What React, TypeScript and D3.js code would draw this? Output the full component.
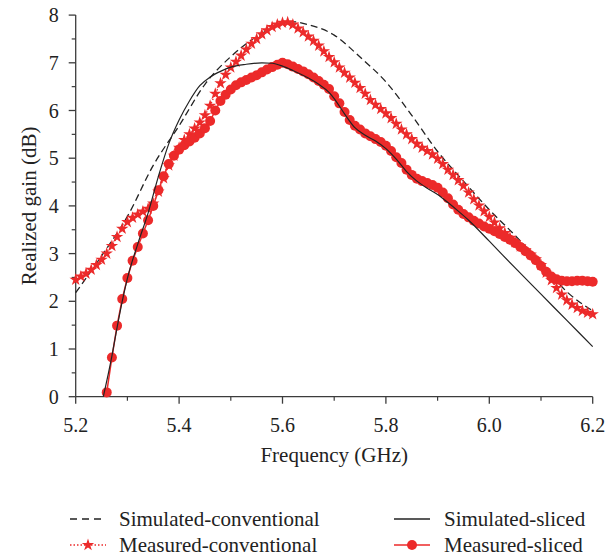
import React from "react";
import * as d3 from "d3";

// ---------- data ----------
const xTicks = [5.2, 5.4, 5.6, 5.8, 6.0, 6.2];
const xTickLabels = ["5.2", "5.4", "5.6", "5.8", "6.0", "6.2"];
const xMinorTicks = [5.3, 5.5, 5.7, 5.9, 6.1];
const yTicks = [0, 1, 2, 3, 4, 5, 6, 7, 8];
const yMinorTicks = [0.5, 1.5, 2.5, 3.5, 4.5, 5.5, 6.5, 7.5];

const simConvFreq = [5.2, 5.25, 5.3, 5.35, 5.4, 5.45, 5.5, 5.55, 5.6, 5.62, 5.65, 5.7, 5.75, 5.8, 5.85, 5.9, 5.95, 6.0, 6.05, 6.1, 6.15, 6.2];
const simConvGain = [2.18, 2.95, 3.78, 4.85, 5.68, 6.55, 7.13, 7.55, 7.81, 7.86, 7.8, 7.58, 7.12, 6.6, 5.9, 5.14, 4.52, 3.92, 3.38, 2.8, 2.2, 1.8];

const simSlicedFreq = [5.2534, 5.27, 5.28, 5.29, 5.3, 5.32, 5.34, 5.36, 5.38, 5.4, 5.42, 5.44, 5.46, 5.48, 5.5, 5.53, 5.56, 5.58, 5.6, 5.62, 5.65, 5.67, 5.69, 5.7, 5.72, 5.74, 5.76, 5.78, 5.8, 5.82, 5.84, 5.86, 5.88, 5.9, 5.92, 5.94, 5.96, 6.0, 6.05, 6.1, 6.15, 6.2];
const simSlicedGain = [0, 0.85, 1.45, 2.0, 2.48, 3.2, 3.85, 4.62, 5.3, 5.8, 6.2, 6.52, 6.7, 6.82, 6.91, 6.97, 7.0, 6.99, 6.93, 6.84, 6.68, 6.55, 6.38, 6.25, 5.93, 5.64, 5.48, 5.36, 5.2, 4.98, 4.72, 4.52, 4.37, 4.24, 4.07, 3.89, 3.7, 3.26, 2.7, 2.15, 1.6, 1.05];

const measConvFreq = [5.2, 5.21, 5.22, 5.23, 5.24, 5.25, 5.26, 5.27, 5.28, 5.29, 5.3, 5.31, 5.32, 5.33, 5.34, 5.35, 5.36, 5.37, 5.38, 5.39, 5.4, 5.41, 5.42, 5.43, 5.44, 5.45, 5.46, 5.47, 5.48, 5.49, 5.5, 5.51, 5.52, 5.53, 5.54, 5.55, 5.56, 5.57, 5.58, 5.59, 5.6, 5.61, 5.62, 5.63, 5.64, 5.65, 5.66, 5.67, 5.68, 5.69, 5.7, 5.71, 5.72, 5.73, 5.74, 5.75, 5.76, 5.77, 5.78, 5.79, 5.8, 5.81, 5.82, 5.83, 5.84, 5.85, 5.86, 5.87, 5.88, 5.89, 5.9, 5.91, 5.92, 5.93, 5.94, 5.95, 5.96, 5.97, 5.98, 5.99, 6.0, 6.01, 6.02, 6.03, 6.04, 6.05, 6.06, 6.07, 6.08, 6.09, 6.1, 6.11, 6.12, 6.13, 6.14, 6.15, 6.16, 6.17, 6.18, 6.19, 6.2];
const measConvGain = [2.45, 2.52, 2.58, 2.66, 2.76, 2.87, 3.0, 3.16, 3.35, 3.52, 3.66, 3.75, 3.82, 3.88, 3.94, 4.05, 4.3, 4.58, 4.85, 5.05, 5.22, 5.38, 5.5, 5.62, 5.75, 5.9, 6.1, 6.35, 6.57, 6.75, 6.9, 7.02, 7.15, 7.28, 7.4, 7.5, 7.6, 7.68, 7.75, 7.8, 7.84, 7.85, 7.8, 7.72, 7.64, 7.55, 7.46, 7.36, 7.24, 7.12, 7.01, 6.9, 6.79, 6.69, 6.58, 6.47, 6.35, 6.22, 6.12, 6.03, 5.94, 5.84, 5.72, 5.6, 5.5, 5.4, 5.3, 5.22, 5.15, 5.08, 4.99, 4.88, 4.76, 4.65, 4.54, 4.42, 4.28, 4.14, 4.01, 3.89, 3.77, 3.65, 3.53, 3.43, 3.33, 3.24, 3.15, 3.07, 2.98, 2.88, 2.76, 2.6, 2.44, 2.28, 2.14, 2.02, 1.93, 1.86, 1.8, 1.76, 1.73];

const measSlicedFreq = [5.26, 5.27, 5.28, 5.29, 5.3, 5.31, 5.32, 5.33, 5.34, 5.35, 5.36, 5.37, 5.38, 5.39, 5.4, 5.41, 5.42, 5.43, 5.44, 5.45, 5.46, 5.47, 5.48, 5.49, 5.5, 5.51, 5.52, 5.53, 5.54, 5.55, 5.56, 5.57, 5.58, 5.59, 5.6, 5.61, 5.62, 5.63, 5.64, 5.65, 5.66, 5.67, 5.68, 5.69, 5.7, 5.71, 5.72, 5.73, 5.74, 5.75, 5.76, 5.77, 5.78, 5.79, 5.8, 5.81, 5.82, 5.83, 5.84, 5.85, 5.86, 5.87, 5.88, 5.89, 5.9, 5.91, 5.92, 5.93, 5.94, 5.95, 5.96, 5.97, 5.98, 5.99, 6.0, 6.01, 6.02, 6.03, 6.04, 6.05, 6.06, 6.07, 6.08, 6.09, 6.1, 6.11, 6.12, 6.13, 6.14, 6.15, 6.16, 6.17, 6.18, 6.19, 6.2];
const measSlicedGain = [0.09, 0.82, 1.49, 2.05, 2.49, 2.85, 3.14, 3.42, 3.7, 4.0, 4.33, 4.62, 4.88, 5.05, 5.18, 5.27, 5.35, 5.43, 5.52, 5.63, 5.78, 6.0, 6.2, 6.33, 6.44, 6.53, 6.59, 6.64, 6.69, 6.74, 6.8, 6.86, 6.91, 6.96, 7.0, 6.97, 6.92, 6.87, 6.82, 6.76, 6.69, 6.62, 6.54, 6.45, 6.3, 6.15, 5.97, 5.8, 5.68, 5.6, 5.52, 5.46, 5.4, 5.34, 5.26, 5.15, 5.02, 4.9, 4.76, 4.65, 4.57, 4.52, 4.48, 4.44, 4.38, 4.28, 4.16, 4.03, 3.92, 3.83, 3.76, 3.69, 3.63, 3.57, 3.52, 3.47, 3.41, 3.35, 3.29, 3.22, 3.14, 3.05, 2.96, 2.86, 2.74, 2.62, 2.52, 2.46, 2.43, 2.42, 2.42, 2.43, 2.43, 2.42, 2.41];

const legendLabels = ["Simulated-conventional", "Simulated-sliced", "Measured-conventional", "Measured-sliced"];

// ---------- styling ----------
const W = 615;
const H = 556;
const RED = "#ec2a2a";
const AXIS = "#3c3c3c";
const FONT = "'Liberation Serif', 'DejaVu Serif', serif";
const FS_TICK = 20;
const FS = 21;

export default function App() {
  const x = d3.scaleLinear().domain([5.2, 6.2]).range([75.7, 592.7]);
  const y = d3.scaleLinear().domain([0, 8]).range([396.7, 15.1]);

  const zip = (fs: number[], gs: number[]) => fs.map((f, i) => [f, gs[i]] as [number, number]);
  const simConv = zip(simConvFreq, simConvGain);
  const simSliced = zip(simSlicedFreq, simSlicedGain);
  const measConv = zip(measConvFreq, measConvGain);
  const measSliced = zip(measSlicedFreq, measSlicedGain);

  const smooth = d3
    .line<[number, number]>()
    .x((d) => x(d[0]))
    .y((d) => y(d[1]))
    .curve(d3.curveMonotoneX);
  const straight = d3
    .line<[number, number]>()
    .x((d) => x(d[0]))
    .y((d) => y(d[1]));

  const starPath = d3.symbol().type(d3.symbolStar).size(48)()!;

  const x0 = x(5.2);
  const yBase = y(0);

  const rowBase = [526, 552];
  const rowLine = [519, 545];
  const legCols = [{ l1: 70, l2: 106, t: 119 }, { l1: 394, l2: 430, t: 444 }];

  return (
    <svg width={W} height={H} style={{ position: "absolute", left: 0, top: 0, background: "#fff" }}>
      {/* axes */}
      <line x1={x0} y1={y(8)} x2={x0} y2={yBase} stroke={AXIS} strokeWidth={1.3} />
      <line x1={x0} y1={yBase} x2={x(6.2)} y2={yBase} stroke={AXIS} strokeWidth={1.3} />
      {yTicks.map((t) => (
        <g key={"yt" + t}>
          <line x1={x0 - 7} x2={x0} y1={y(t)} y2={y(t)} stroke={AXIS} strokeWidth={1.3} />
          <text x={x0 - 17} y={y(t)} dy="0.35em" textAnchor="end" fontFamily={FONT} fontSize={FS_TICK} fill="#222">
            {t}
          </text>
        </g>
      ))}
      {yMinorTicks.map((t) => (
        <line key={"ym" + t} x1={x0 - 4} x2={x0} y1={y(t)} y2={y(t)} stroke={AXIS} strokeWidth={1.2} />
      ))}
      {xTicks.map((t, i) => (
        <g key={"xt" + t}>
          <line x1={x(t)} x2={x(t)} y1={yBase} y2={yBase + 7} stroke={AXIS} strokeWidth={1.3} />
          <text x={x(t)} y={yBase + 35} textAnchor="middle" fontFamily={FONT} fontSize={FS_TICK} fill="#222">
            {xTickLabels[i]}
          </text>
        </g>
      ))}
      {xMinorTicks.map((t) => (
        <line key={"xm" + t} x1={x(t)} x2={x(t)} y1={yBase} y2={yBase + 4} stroke={AXIS} strokeWidth={1.2} />
      ))}
      <text x={(x(5.2) + x(6.2)) / 2} y={462} textAnchor="middle" fontFamily={FONT} fontSize={FS} fill="#222">
        Frequency (GHz)
      </text>
      <text
        transform={`translate(36, ${(y(0) + y(8)) / 2}) rotate(-90)`}
        textAnchor="middle"
        fontFamily={FONT}
        fontSize={FS}
        fill="#222"
      >
        Realized gain (dB)
      </text>

      {/* simulated conventional (dashed) */}
      <path d={smooth(simConv)!} fill="none" stroke="#222" strokeWidth={1.3} strokeDasharray="7,4" />
      {/* measured conventional (stars, dotted) */}
      <path d={straight(measConv)!} fill="none" stroke={RED} strokeWidth={1.3} strokeDasharray="1.5,2" />
      {measConv.map((d, i) => (
        <path key={"s" + i} d={starPath} transform={`translate(${x(d[0])},${y(d[1])})`} fill={RED} />
      ))}
      {/* measured sliced (circles, solid) */}
      <path d={straight(measSliced)!} fill="none" stroke={RED} strokeWidth={1.5} />
      {measSliced.map((d, i) => (
        <circle key={"c" + i} cx={x(d[0])} cy={y(d[1])} r={5} fill={RED} />
      ))}
      {/* simulated sliced (solid black) */}
      <path d={smooth(simSliced)!} fill="none" stroke="#222" strokeWidth={1.2} />

      {/* legend */}
      <g fontFamily={FONT} fontSize={FS} fill="#222">
        <line x1={legCols[0].l1} x2={legCols[0].l2} y1={rowLine[0]} y2={rowLine[0]} stroke="#222" strokeWidth={1.3} strokeDasharray="7,5" />
        <text x={legCols[0].t} y={rowBase[0]}>{legendLabels[0]}</text>

        <line x1={legCols[1].l1} x2={legCols[1].l2} y1={rowLine[0]} y2={rowLine[0]} stroke="#222" strokeWidth={1.3} />
        <text x={legCols[1].t} y={rowBase[0]}>{legendLabels[1]}</text>

        <line x1={legCols[0].l1} x2={legCols[0].l2} y1={rowLine[1]} y2={rowLine[1]} stroke={RED} strokeWidth={1.3} strokeDasharray="1.5,2" />
        <path d={starPath} transform={`translate(${(legCols[0].l1 + legCols[0].l2) / 2},${rowLine[1]})`} fill={RED} />
        <text x={legCols[0].t} y={rowBase[1]}>{legendLabels[2]}</text>

        <line x1={legCols[1].l1} x2={legCols[1].l2} y1={rowLine[1]} y2={rowLine[1]} stroke={RED} strokeWidth={1.5} />
        <circle cx={(legCols[1].l1 + legCols[1].l2) / 2} cy={rowLine[1]} r={5} fill={RED} />
        <text x={legCols[1].t} y={rowBase[1]}>{legendLabels[3]}</text>
      </g>
    </svg>
  );
}
